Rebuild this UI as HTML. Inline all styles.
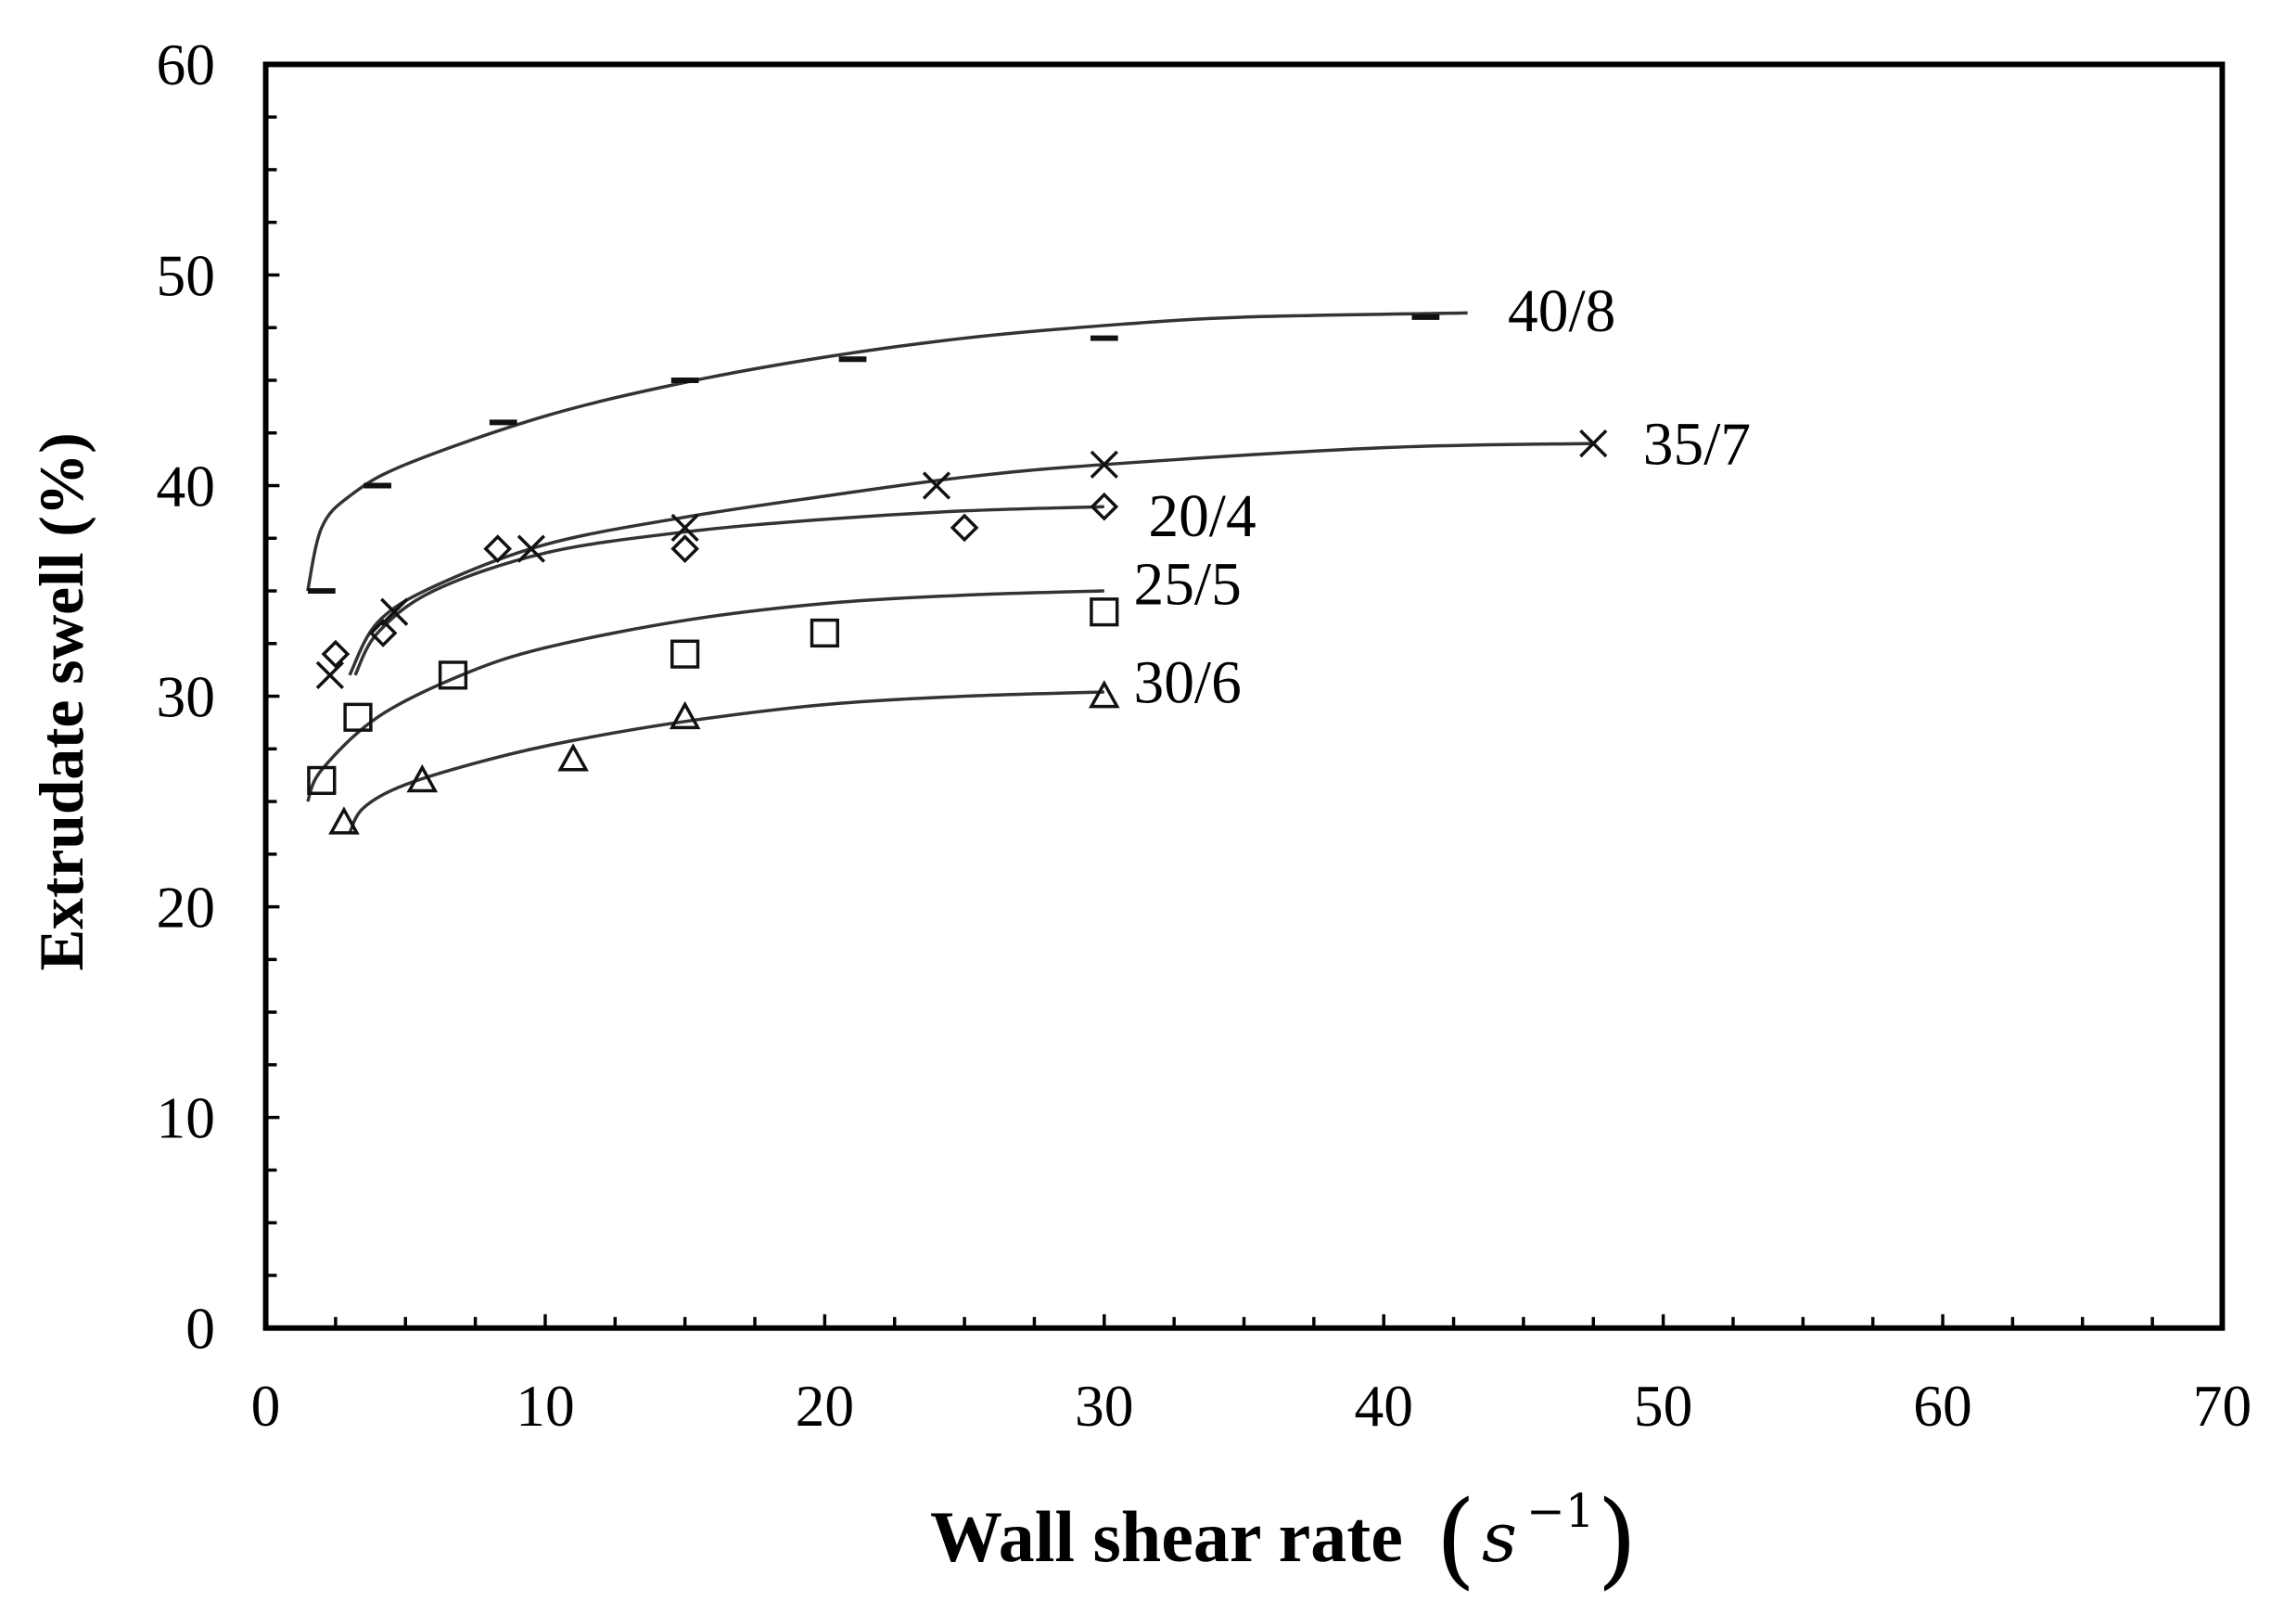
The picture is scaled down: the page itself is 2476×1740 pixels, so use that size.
<!DOCTYPE html>
<html><head><meta charset="utf-8"><style>body{margin:0;background:#fff}svg{display:block}</style></head>
<body>
<svg id="s" width="2476" height="1740" xmlns="http://www.w3.org/2000/svg" font-family="Liberation Serif, serif">
<rect width="2476" height="1740" fill="#fff"/>
<g transform="scale(0.9915)">
<g id="g"></g>
<text x="74" y="763" transform="rotate(-90 74 763)" text-anchor="middle" font-size="68" font-weight="bold" dominant-baseline="middle">Extrudate swell (%)</text>
</g>
<text x="1003" y="1683" font-size="78" font-weight="bold">Wall shear rate</text>
<text x="1548" y="1698" font-size="112" font-family="DejaVu Serif, serif" font-weight="200">(</text>
<text x="1598" y="1683" font-size="74" font-style="italic" font-family="DejaVu Serif, serif">s</text>
<text x="1646" y="1646" font-size="50" font-family="DejaVu Serif, serif">−1</text>
<text x="1722" y="1698" font-size="112" font-family="DejaVu Serif, serif" font-weight="200">)</text>
</svg>
<script>
const X=v=>289+v*30.4, Y=v=>1444-v*22.9;
const g=document.getElementById('g');let h='';
h+=`<rect x="${X(0)}" y="${Y(60)}" width="${X(70)-X(0)}" height="${Y(0)-Y(60)}" fill="none" stroke="#000" stroke-width="6"/>`;
for(let v=0;v<=70;v+=2.5){const l=(v%10==0)?15:12;h+=`<line x1="${X(v)}" x2="${X(v)}" y1="${Y(0)}" y2="${Y(0)-l}" stroke="#000" stroke-width="3.5"/>`;}
for(let v=0;v<=60;v+=2.5){const l=(v%10==0)?15:12;h+=`<line x1="${X(0)}" x2="${X(0)+l}" y1="${Y(v)}" y2="${Y(v)}" stroke="#000" stroke-width="3.5"/>`;}
for(let v=0;v<=70;v+=10)h+=`<text x="${X(v)}" y="1550" font-size="64" text-anchor="middle">${v}</text>`;
for(let v=0;v<=60;v+=10)h+=`<text x="234" y="${Y(v)+22}" font-size="64" text-anchor="end">${v}</text>`;
function curve(p){let pts=p.map(a=>[X(a[0]),Y(a[1])]);let d=`M${pts[0][0]},${pts[0][1]}`;
for(let i=0;i<pts.length-1;i++){const p0=pts[i-1]||pts[i],p1=pts[i],p2=pts[i+1],p3=pts[i+2]||p2;
d+=` C${p1[0]+(p2[0]-p0[0])/6},${p1[1]+(p2[1]-p0[1])/6} ${p2[0]-(p3[0]-p1[0])/6},${p2[1]-(p3[1]-p1[1])/6} ${p2[0]},${p2[1]}`;}
h+=`<path d="${d}" fill="none" stroke="#333" stroke-width="3.5"/>`;}
curve([[1.5,35],[2,38],[3,39.5],[5,41],[10,43.3],[15,44.9],[20,46.1],[25,47],[30,47.6],[35,48],[43,48.2]]);
curve([[3,31],[4,33.5],[6,35.2],[10,37.2],[15,38.5],[20,39.5],[25,40.4],[30,41],[40,41.8],[47.5,42]]);
curve([[3.2,31],[4,33],[6,35],[10,36.8],[15,37.8],[20,38.4],[25,38.8],[30,39]]);
curve([[1.5,25],[2,26.5],[4,29],[7,31],[10,32.3],[15,33.6],[20,34.4],[25,34.8],[30,35]]);
curve([[3,23.5],[3.5,24.7],[5,25.8],[8,27],[11,27.9],[15,28.8],[20,29.6],[25,30],[30,30.2]]);
const st='fill="none" stroke="#111" stroke-width="3.5"';
[[2,35],[4,40],[8.5,43],[15,45],[21,46],[30,47],[41.5,48]].forEach(([a,b])=>h+=`<line x1="${X(a)-15}" x2="${X(a)+15}" y1="${Y(b)}" y2="${Y(b)}" stroke="#111" stroke-width="6"/>`);
[[2.3,31],[4.6,34],[9.5,37],[15,38],[24,40],[30,41],[47.5,42]].forEach(([a,b])=>{const x=X(a),y=Y(b),r=14;h+=`<path d="M${x-r},${y-r}L${x+r},${y+r}M${x-r},${y+r}L${x+r},${y-r}" ${st}/>`});
[[2.5,32],[4.2,33],[8.3,37],[15,37],[25,38],[30,39]].forEach(([a,b])=>{const x=X(a),y=Y(b),r=13;h+=`<path d="M${x},${y-r}L${x+r},${y}L${x},${y+r}L${x-r},${y}Z" ${st}/>`});
[[2,26],[3.3,29],[6.7,31],[15,32],[20,33],[30,34]].forEach(([a,b])=>{const x=X(a),y=Y(b),r=14;h+=`<rect x="${x-r}" y="${y-r}" width="${2*r}" height="${2*r}" ${st}/>`});
[[2.8,24],[5.6,26],[11,27],[15,29],[30,30]].forEach(([a,b])=>{const x=X(a),y=Y(b),r=14;h+=`<path d="M${x},${y-r}L${x+r},${y+r*0.8}L${x-r},${y+r*0.8}Z" ${st}/>`});
[["40/8",1640,360],["35/7",1787,505],["20/4",1249,583],["25/5",1233,657],["30/6",1233,764]].forEach(([t,x,y])=>h+=`<text x="${x}" y="${y}" font-size="66">${t}</text>`);
g.innerHTML=h;
</script>
</body></html>
